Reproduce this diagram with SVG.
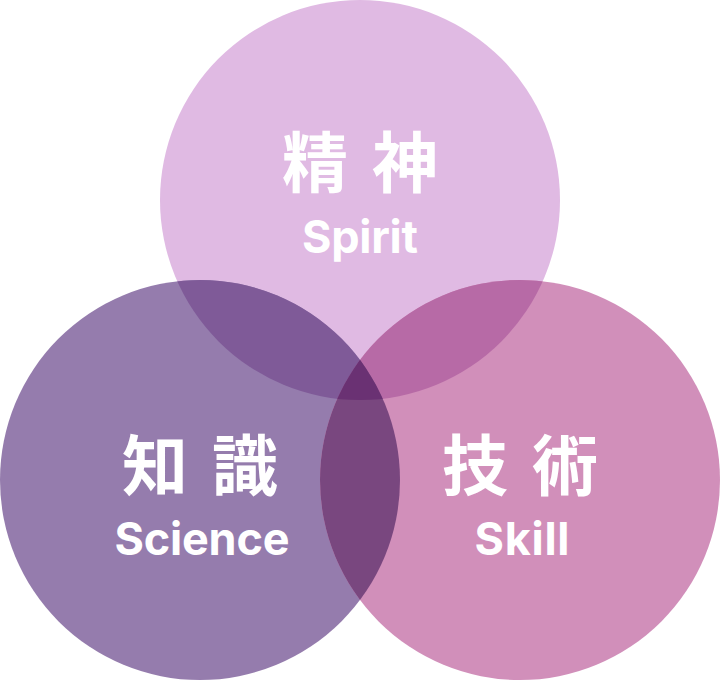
<svg xmlns="http://www.w3.org/2000/svg" width="720" height="680" viewBox="0 0 720 680">
  <style>
    .cjk { font-family: "Noto Sans CJK JP", "Noto Sans CJK SC", sans-serif; font-weight: 700; font-size: 66px; fill: #ffffff; text-anchor: middle; }
    .en { font-family: "Inter", "Lato", "Liberation Sans", sans-serif; font-weight: 700; font-size: 45px; fill: #ffffff; text-anchor: middle; }
  </style>
  <defs>
    <clipPath id="clipT"><circle cx="360" cy="200" r="200"/></clipPath>
    <clipPath id="clipL"><circle cx="200" cy="480" r="200"/></clipPath>
    <clipPath id="clipR"><circle cx="520" cy="480" r="200"/></clipPath>
  </defs>
  <rect width="720" height="680" fill="#ffffff"/>
  <g id="spirit">
    <circle cx="360" cy="200" r="200" fill="#E0BAE3"/>
  </g>
  <g id="science">
    <circle cx="200" cy="480" r="200" fill="#957CAD"/>
  </g>
  <g id="skill">
    <circle cx="520" cy="480" r="200" fill="#D18FBA"/>
  </g>
  <g id="overlaps">
    <circle cx="200" cy="480" r="200" fill="#7F5A98" clip-path="url(#clipT)"/>
    <circle cx="520" cy="480" r="200" fill="#B76AA6" clip-path="url(#clipT)"/>
    <circle cx="520" cy="480" r="200" fill="#79477F" clip-path="url(#clipL)"/>
    <g clip-path="url(#clipT)">
      <circle cx="520" cy="480" r="200" fill="#6A3173" clip-path="url(#clipL)"/>
    </g>
  </g>
  <g id="labels">
    <text class="cjk" x="315" y="187">精</text>
    <text class="cjk" x="405" y="187">神</text>
    <text class="en" x="360" y="253" textLength="116" lengthAdjust="spacing">Spirit</text>
    <text class="cjk" x="155" y="490">知</text>
    <text class="cjk" x="245" y="490">識</text>
    <text class="en" x="202" y="555" textLength="175" lengthAdjust="spacing">Science</text>
    <text class="cjk" x="475" y="490">技</text>
    <text class="cjk" x="565" y="490">術</text>
    <text class="en" x="522" y="555" textLength="95" lengthAdjust="spacing">Skill</text>
  </g>
  <g id="connectors"></g>
</svg>
